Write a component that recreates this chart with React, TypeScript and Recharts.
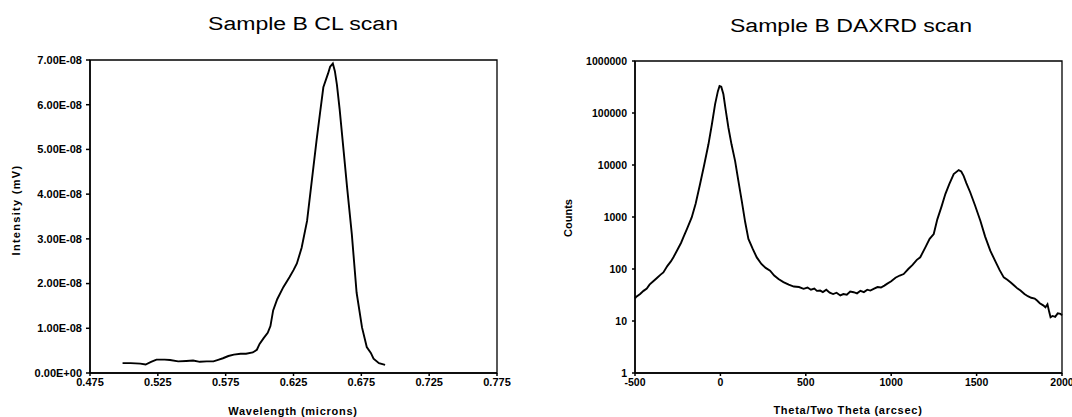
import React from "react";
import { LineChart, Line, XAxis, YAxis, ReferenceArea } from "recharts";

// ---- Left chart: CL scan ----
const clWavelength = [
  0.499, 0.505, 0.512, 0.516, 0.52, 0.524, 0.53, 0.534, 0.54, 0.546, 0.551, 0.556, 0.561, 0.566,
  0.57, 0.573, 0.577, 0.581, 0.586, 0.59, 0.595, 0.598, 0.6, 0.603, 0.606, 0.608, 0.61, 0.613,
  0.6175, 0.622, 0.625, 0.6275, 0.631, 0.635, 0.6385, 0.642, 0.6445, 0.647, 0.6505, 0.652, 0.654,
  0.6555, 0.657, 0.659, 0.662, 0.6645, 0.668, 0.6715, 0.6755, 0.679, 0.682, 0.684, 0.688, 0.6925,
];
const clIntensity = [
  0.22e-8, 0.22e-8, 0.21e-8, 0.19e-8, 0.25e-8, 0.3e-8, 0.3e-8, 0.29e-8, 0.26e-8, 0.27e-8, 0.28e-8,
  0.25e-8, 0.26e-8, 0.26e-8, 0.3e-8, 0.33e-8, 0.38e-8, 0.41e-8, 0.43e-8, 0.43e-8, 0.46e-8, 0.52e-8,
  0.65e-8, 0.78e-8, 0.9e-8, 1.05e-8, 1.4e-8, 1.65e-8, 1.92e-8, 2.14e-8, 2.3e-8, 2.45e-8, 2.8e-8,
  3.4e-8, 4.3e-8, 5.2e-8, 5.8e-8, 6.39e-8, 6.7e-8, 6.85e-8, 6.92e-8, 6.75e-8, 6.45e-8, 5.9e-8,
  4.95e-8, 4.15e-8, 3.1e-8, 1.8e-8, 1.02e-8, 0.58e-8, 0.45e-8, 0.32e-8, 0.22e-8, 0.18e-8,
];
const clXTicks = [0.475, 0.525, 0.575, 0.625, 0.675, 0.725, 0.775];
const clYTicks = [0, 1e-8, 2e-8, 3e-8, 4e-8, 5e-8, 6e-8, 7e-8];

// ---- Right chart: DAXRD scan ----
const xrdTheta = [
  -500, -494, -470, -450, -431, -415, -393, -370, -350, -334, -310, -290, -275, -250, -230, -217,
  -195, -168, -145, -119, -95, -70, -50, -31, -15, -5, 5, 17.6, 30, 47, 65, 86, 105, 125, 145, 164,
  190, 213, 240, 265, 291, 315, 340, 369, 400, 430, 460, 487, 510, 530, 550, 565, 584, 600, 620,
  640, 660, 680, 702, 720, 740, 760, 780, 800, 820, 840, 860, 878, 900, 920, 940, 960, 975, 1000,
  1025, 1050, 1073, 1100, 1125, 1150, 1170, 1200, 1225, 1249, 1270, 1295, 1317, 1340, 1366, 1395,
  1410, 1424, 1440, 1463, 1490, 1522, 1550, 1580, 1610, 1635, 1659, 1680, 1700, 1720, 1740, 1757,
  1780, 1800, 1820, 1840, 1854, 1870, 1890, 1903, 1915, 1925, 1933, 1945, 1960, 1975, 1991, 2000,
];
const xrdCounts = [
  27, 29, 33, 38, 42, 50, 58, 68, 78, 86, 115, 140, 168, 240, 320, 405, 600, 980, 1800, 4300,
  10000, 25000, 60000, 148000, 260000, 330000, 320000, 229000, 120000, 52000, 25000, 12000, 5000,
  2050, 800, 380, 240, 167, 125, 105, 93, 75, 64, 56, 50, 46, 45, 41.6, 44, 40, 42, 38, 38.5, 36,
  40, 35, 33, 35, 31, 33, 32, 37, 35.8, 34, 38, 36, 40, 38.5, 42, 45, 44, 48, 51.7, 58, 68, 75,
  80, 100, 120, 150, 168, 260, 380, 470, 900, 1600, 2760, 4300, 6700, 7970, 7500, 6200, 4500, 2960,
  1700, 850, 420, 225, 140, 95, 69, 62, 55, 48, 42, 38.5, 33, 30, 28, 27, 24.7, 22, 20, 18.4, 21,
  15, 11.8, 12.5, 12, 14, 13.7, 12.8,
];
const xrdXTicks = [-500, 0, 500, 1000, 1500, 2000];
const xrdYTicks = [1, 10, 100, 1000, 10000, 100000, 1000000];

const clData = clWavelength.map((w, i) => ({ w, v: clIntensity[i] }));
const xrdData = xrdTheta.map((t, i) => ({ t, c: xrdCounts[i] }));

const FONT = "'Liberation Sans', Arial, sans-serif";

function sciFormat(v: number): string {
  if (v === 0) return "0.00E+00";
  const exp = Math.floor(Math.log10(Math.abs(v)) + 1e-9);
  const mant = v / Math.pow(10, exp);
  const sign = exp < 0 ? "-" : "+";
  const e = Math.abs(exp).toString().padStart(2, "0");
  return `${mant.toFixed(2)}E${sign}${e}`;
}

const tickStyle = (size: number) => ({
  fontSize: size,
  fontWeight: 700,
  fill: "#000",
  fontFamily: FONT,
});

const abs = (extra: React.CSSProperties): React.CSSProperties => ({
  position: "absolute",
  fontFamily: FONT,
  color: "#000",
  whiteSpace: "nowrap",
  lineHeight: 1,
  ...extra,
});

export default function App() {
  return (
    <div
      style={{
        position: "absolute",
        left: 0,
        top: 0,
        width: 1072,
        height: 417,
        background: "#fff",
        overflow: "hidden",
      }}
    >
      {/* Left chart */}
      <div style={{ position: "absolute", left: 0, top: 0 }}>
        <LineChart width={540} height={417} data={clData} margin={{ top: 60, right: 43, bottom: 0, left: 0 }}>
          <XAxis
            dataKey="w"
            type="number"
            domain={[0.475, 0.775]}
            ticks={clXTicks}
            tickFormatter={(v: number) => v.toFixed(3)}
            tick={tickStyle(11)}
            tickSize={3}
            tickMargin={2}
            height={44}
            stroke="#000"
            strokeWidth={1.5}
            interval={0}
          />
          <YAxis
            type="number"
            domain={[0, 7e-8]}
            ticks={clYTicks}
            tickFormatter={sciFormat}
            tick={tickStyle(11)}
            tickSize={4}
            tickMargin={4}
            width={90}
            stroke="#000"
            strokeWidth={1.5}
            interval={0}
          />
          <ReferenceArea x1={0.475} x2={0.775} y1={0} y2={7e-8} fill="none" stroke="#000" strokeWidth={1.3} ifOverflow="visible" />
          <Line
            type="linear"
            dataKey="v"
            stroke="#000"
            strokeWidth={1.9}
            dot={false}
            isAnimationActive={false}
          />
        </LineChart>
      </div>

      {/* Right chart */}
      <div style={{ position: "absolute", left: 540, top: 0 }}>
        <LineChart width={532} height={417} data={xrdData} margin={{ top: 61, right: 10, bottom: 0, left: 0 }}>
          <XAxis
            dataKey="t"
            type="number"
            domain={[-500, 2000]}
            ticks={xrdXTicks}
            tick={tickStyle(10.5)}
            tickSize={3}
            tickMargin={3}
            height={44}
            stroke="#000"
            strokeWidth={1.5}
            interval={0}
          />
          <YAxis
            type="number"
            scale="log"
            domain={[1, 1000000]}
            ticks={xrdYTicks}
            tickFormatter={(v: number) => String(v)}
            tick={tickStyle(10.5)}
            tickSize={3}
            tickMargin={5}
            width={95}
            stroke="#000"
            strokeWidth={1.5}
            interval={0}
            allowDataOverflow
          />
          <ReferenceArea x1={-500} x2={2000} y1={1} y2={1000000} fill="none" stroke="#000" strokeWidth={1.3} ifOverflow="visible" />
          <Line
            type="linear"
            dataKey="c"
            stroke="#000"
            strokeWidth={1.9}
            dot={false}
            isAnimationActive={false}
          />
        </LineChart>
      </div>

      {/* Titles */}
      <div style={abs({ left: 303, top: 14.5, fontSize: 18, transform: "translateX(-50%) scaleX(1.28)" })}>
        Sample B CL scan
      </div>
      <div style={abs({ left: 851, top: 16.5, fontSize: 18, transform: "translateX(-50%) scaleX(1.28)" })}>
        Sample B DAXRD scan
      </div>

      {/* Axis titles */}
      <div style={abs({ left: 293, top: 406, fontSize: 11, fontWeight: 700, letterSpacing: 0.75, transform: "translateX(-50%)" })}>
        Wavelength (microns)
      </div>
      <div style={abs({ left: 848, top: 405, fontSize: 11, fontWeight: 700, letterSpacing: 0.75, transform: "translateX(-50%)" })}>
        Theta/Two Theta (arcsec)
      </div>
      <div
        style={abs({
          left: 16,
          top: 210,
          fontSize: 11,
          fontWeight: 700,
          letterSpacing: 1.3,
          transform: "translate(-50%, -50%) rotate(-90deg)",
        })}
      >
        Intensity (mV)
      </div>
      <div
        style={abs({
          left: 568,
          top: 218,
          fontSize: 11,
          fontWeight: 700,
          transform: "translate(-50%, -50%) rotate(-90deg)",
        })}
      >
        Counts
      </div>
    </div>
  );
}
